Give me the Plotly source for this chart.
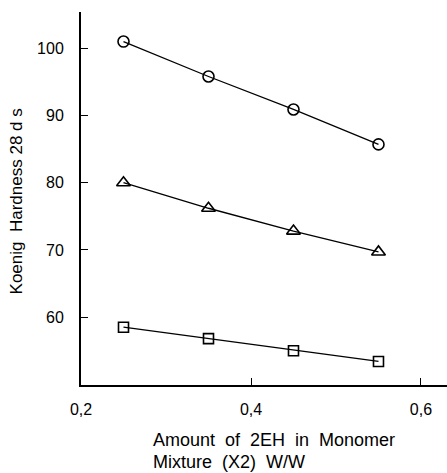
import plotly.graph_objects as go

x_vals = [0.25, 0.35, 0.45, 0.55]
circle_vals = [101.0, 95.8, 90.9, 85.7]
triangle_vals = [80.0, 76.2, 72.8, 69.7]
square_vals = [58.5, 56.8, 55.0, 53.4]
x_ticks = [0.2, 0.4, 0.6]
x_tick_labels = ["0,2", "0,4", "0,6"]
y_ticks = [60, 70, 80, 90, 100]

FONT = "Liberation Sans"
fig = go.Figure()
for vals, sym, size in [(circle_vals, "circle-open", 11),
                        (triangle_vals, "triangle-up-open", 12),
                        (square_vals, "square-open", 10)]:
    fig.add_trace(go.Scatter(
        x=x_vals, y=vals, mode="lines+markers",
        line=dict(color="black", width=1.3),
        marker=dict(symbol=sym, size=size, color="black",
                    line=dict(color="black", width=1.6)),
        showlegend=False))

fig.update_layout(
    width=447, height=473,
    margin=dict(l=81, r=0, t=12, b=88),
    paper_bgcolor="white", plot_bgcolor="white",
    font=dict(family=FONT, size=16, color="black"),
    xaxis=dict(range=[0.2, 0.6306], tickvals=x_ticks, ticktext=x_tick_labels,
               ticks="inside", ticklen=7, tickwidth=1.3, tickcolor="black",
               showline=True, linecolor="black", linewidth=2,
               showgrid=False, zeroline=False, ticklabelstandoff=9),
    yaxis=dict(range=[49.9, 105.4], tickvals=y_ticks,
               ticks="inside", ticklen=7, tickwidth=1.3, tickcolor="black",
               showline=True, linecolor="black", linewidth=2,
               showgrid=False, zeroline=False, ticklabelstandoff=12),
    annotations=[
        dict(text="Koenig  Hardness 28 d s", xref="paper", yref="paper",
             x=-0.175, y=0.492, xanchor="center", yanchor="middle",
             textangle=-90, showarrow=False, font=dict(size=17)),
        dict(text="Amount  of  2EH  in  Monomer", xref="paper", yref="paper",
             x=0.19, y=-0.1475, xanchor="left", yanchor="middle",
             showarrow=False, font=dict(size=18)),
        dict(text="Mixture  (X2)  W/W", xref="paper", yref="paper",
             x=0.19, y=-0.207, xanchor="left", yanchor="middle",
             showarrow=False, font=dict(size=18)),
    ],
)
fig.write_html("out.html")
